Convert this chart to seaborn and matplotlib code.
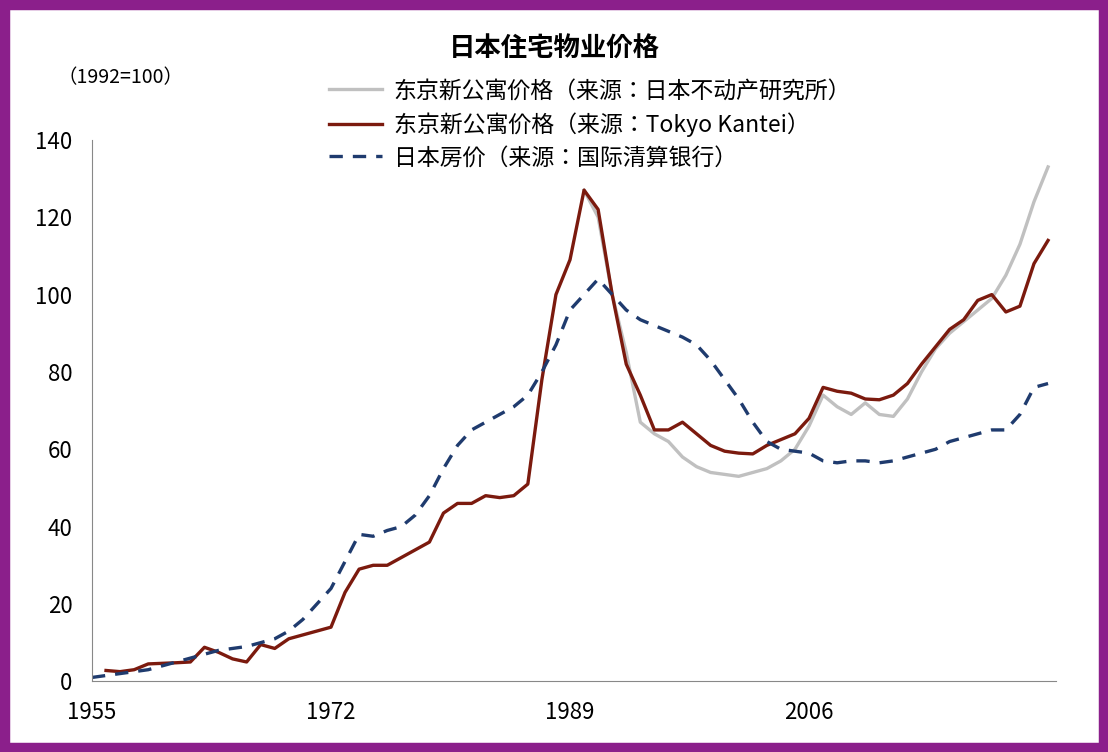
import numpy as np
import pandas as pd
import matplotlib
matplotlib.use("Agg")
import matplotlib.pyplot as plt
from matplotlib import font_manager as fm
import seaborn as sns

years = list(range(1955, 2024))
nan = np.nan
kantei = [nan, 2.8, 2.5, 3, 4.5, nan, 4.8, 5, 8.8, 7.5, 5.8, 5, 9.5, 8.5, 11, 12, 13, 14, 23, 29,
          30, 30, 32, 34, 36, 43.5, 46, 46, 48, 47.5, 48, 51, 78, 100, 109, 127, 122, 100, 82, 74,
          65, 65, 67, 64, 61, 59.5, 59, 58.8, 61, 62.5, 64, 68, 76, 75, 74.5, 73, 72.8, 74, 77, 82,
          86.5, 91, 93.5, 98.5, 100, 95.5, 97, 108, 114]
reinst = [nan]*35 + [127, 120, 100, 85, 67, 64, 62, 58, 55.5, 54, 53.5, 53, 54, 55, 57, 60, 66, 74,
          71, 69, 72, 69, 68.5, 73, 80, 86, 90, 93, 96, 99, 105, 113, 124, 133]
bis = [1, 1.5, 2, 2.5, 3, 4, 5, 6, 7, 8, 8.5, 9, 10, 11, 13, 16, 20, 24, 31, 38, 37.5, 39, 40, 43,
       48, 55, 61, 65, 67, 69, 71, 74, 80, 87, 96, 100, 104, 100, 96, 93.5, 92, 90.5, 89, 87, 83,
       78, 73, 67, 62, 60, 59.5, 59, 57, 56.5, 57, 57, 56.5, 57, 58, 59, 60, 62, 63, 64, 65, 65,
       69, 76, 77]
xticks = [1955, 1972, 1989, 2006]
yticks = [0, 20, 40, 60, 80, 100, 120, 140]
labels = ["东京新公寓价格（来源：日本不动产研究所）", "东京新公寓价格（来源：Tokyo Kantei）", "日本房价（来源：国际清算银行）"]

cjk = None
for f in fm.findSystemFonts():
    if "CJK" in f or "cjk" in f.lower():
        cjk = f
        if "SC" in f or "ttc" in f:
            break
if cjk:
    fm.fontManager.addfont(cjk)
    name = fm.FontProperties(fname=cjk).get_name()
    plt.rcParams["font.family"] = [name, "DejaVu Sans"]
else:
    plt.rcParams["font.family"] = ["Noto Sans CJK SC", "DejaVu Sans"]

df = pd.DataFrame({"year": years, "reinst": reinst, "kantei": kantei, "bis": bis})

fig = plt.figure(figsize=(11.08, 7.52), dpi=100)
fig.patch.set_facecolor("white")
ax = fig.add_axes([0.083, 0.094, 0.87, 0.72])
sns.lineplot(data=df, x="year", y="reinst", ax=ax, color="#c0c0c0", lw=2.4, label=labels[0])
sns.lineplot(data=df, x="year", y="kantei", ax=ax, color="#7b1a0e", lw=2.4, label=labels[1])
sns.lineplot(data=df, x="year", y="bis", ax=ax, color="#1f3b6e", lw=2.4, ls=(0, (4, 3)), label=labels[2])
ax.set_xlim(1955, 2023.56)
ax.set_ylim(0, 140)
ax.set_xticks(xticks)
ax.set_yticks(yticks)
ax.tick_params(labelsize=16, length=0)
ax.tick_params(axis="x", pad=14)
ax.tick_params(axis="y", pad=14)
ax.set_xlabel("")
ax.set_ylabel("")
for s in ["top", "right"]:
    ax.spines[s].set_visible(False)
for s in ["left", "bottom"]:
    ax.spines[s].set_color("#888888")
ax.legend(loc="upper left", bbox_to_anchor=(0.225, 1.15), frameon=False, fontsize=16.5,
          handlelength=2.3, labelspacing=0.42, handletextpad=0.5)
fig.text(0.5, 0.925, "日本住宅物业价格", ha="center", fontsize=19, fontweight="bold")
fig.text(0.052, 0.89, "（1992=100）", ha="left", fontsize=14)
fig.patches.append(plt.Rectangle((0, 0), 1, 1, transform=fig.transFigure, fill=False,
                                 edgecolor="#8b1f8b", lw=14))
fig.savefig("out.png", dpi=100)
